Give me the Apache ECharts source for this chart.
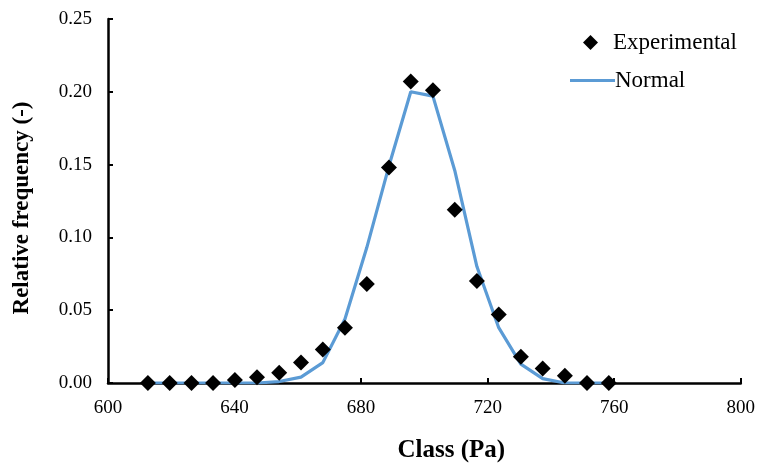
<!DOCTYPE html>
<html>
<head>
<meta charset="utf-8">
<script src="https://cdn.jsdelivr.net/npm/echarts@6/dist/echarts.min.js"></script>
<style>
  html, body { margin: 0; padding: 0; background: #fff; }
  #chart { width: 758px; height: 468px; }
</style>
</head>
<body>
<div id="chart"></div>
<script>
// Class midpoints (Pa)
const classes = [612.6, 619.5, 626.4, 633.2, 640.1, 647.1, 654.1, 661.0, 667.9, 674.9, 681.8,
                 688.8, 695.7, 702.7, 709.6, 716.6, 723.5, 730.5, 737.4, 744.4, 751.4, 758.3];
// Measured relative frequency per class
const experimental = [0.000, 0.000, 0.000, 0.000, 0.002, 0.004, 0.007, 0.014, 0.023, 0.038, 0.068,
                      0.148, 0.207, 0.201, 0.119, 0.070, 0.047, 0.018, 0.010, 0.005, 0.000, 0.000];
// Fitted normal distribution per class
const normal = [0.000, 0.000, 0.000, 0.000, 0.000, 0.000, 0.001, 0.004, 0.014, 0.044, 0.093,
                0.149, 0.200, 0.197, 0.146, 0.080, 0.038, 0.013, 0.003, 0.000, 0.000, 0.000];
const xTicks = { min: 600, max: 800, interval: 40 };
const yTicks = { min: 0, max: 0.25, interval: 0.05 };

const serif = 'Liberation Serif, Times New Roman, serif';
const pairs = (xs, ys) => xs.map((x, i) => [x, ys[i]]);
const legendText = { fontFamily: serif, fontSize: 23, color: '#000' };

const chart = echarts.init(document.getElementById('chart'));
chart.setOption({
  backgroundColor: '#fff',
  animation: false,
  grid: { left: 108, right: 17, top: 19, bottom: 85, containLabel: false },
  legend: [
    {
      left: 578, top: 26,
      itemWidth: 15, itemHeight: 15,
      icon: 'diamond',
      textStyle: Object.assign({ padding: [0, 0, 0, 10] }, legendText),
      data: ['Experimental']
    },
    {
      left: 565, top: 64,
      itemWidth: 45, itemHeight: 3,
      textStyle: Object.assign({ padding: [0, 0, 0, -5] }, legendText),
      data: [{ name: 'Normal', icon: 'rect' }]
    }
  ],
  xAxis: {
    type: 'value',
    min: xTicks.min, max: xTicks.max, interval: xTicks.interval,
    name: 'Class (Pa)',
    nameLocation: 'middle',
    nameGap: 55,
    nameTextStyle: {
      fontFamily: serif, fontSize: 25, fontWeight: 'bold', color: '#000',
      padding: [0, 0, 0, 54]
    },
    axisLine: { lineStyle: { color: '#000', width: 2.5 } },
    axisTick: { inside: true, length: 5, lineStyle: { color: '#000', width: 2 } },
    axisLabel: { fontFamily: serif, fontSize: 19, color: '#000', margin: 16 },
    splitLine: { show: false }
  },
  yAxis: {
    type: 'value',
    min: yTicks.min, max: yTicks.max, interval: yTicks.interval,
    name: 'Relative frequency (-)',
    nameLocation: 'middle',
    nameGap: 74,
    nameTextStyle: {
      fontFamily: serif, fontSize: 23, fontWeight: 'bold', color: '#000',
      padding: [0, 14, 0, 0]
    },
    axisLine: { lineStyle: { color: '#000', width: 2.5 } },
    axisTick: { inside: true, length: 5, lineStyle: { color: '#000', width: 2 } },
    axisLabel: {
      fontFamily: serif, fontSize: 19, color: '#000', margin: 16,
      formatter: v => v.toFixed(2)
    },
    splitLine: { show: false }
  },
  series: [
    {
      name: 'Normal',
      type: 'line',
      data: pairs(classes, normal),
      symbol: 'none',
      lineStyle: { color: '#5B9BD5', width: 3.2 },
      itemStyle: { color: '#5B9BD5' },
      z: 2
    },
    {
      name: 'Experimental',
      type: 'scatter',
      data: pairs(classes, experimental),
      symbol: 'diamond',
      symbolSize: 16,
      itemStyle: { color: '#000', opacity: 1 },
      z: 3
    }
  ]
});
</script>
</body>
</html>
